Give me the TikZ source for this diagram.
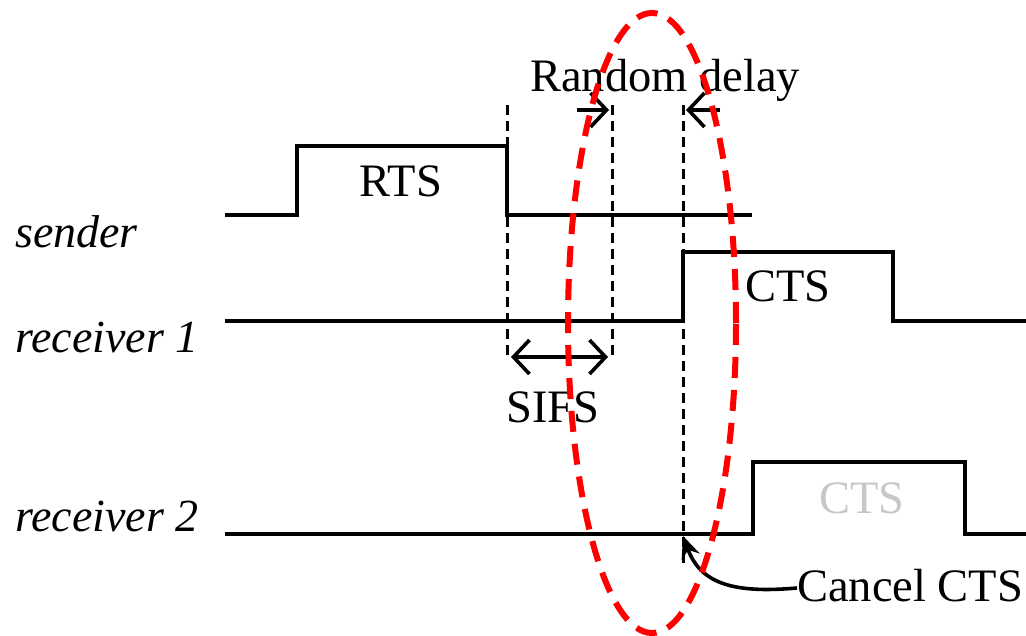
\documentclass[tikz,border=0pt]{standalone}
\usepackage{fontspec}
\setmainfont{Liberation Serif}
\usetikzlibrary{arrows.meta}
\begin{document}
\begin{tikzpicture}[x=1pt,y=-1pt,
  sig/.style={line width=3.6pt, line join=miter, line cap=butt},
  guide/.style={line width=3pt, dash pattern=on 10pt off 6pt},
  lbl/.style={font=\fontsize{46.5}{50}\selectfont, inner sep=0pt, anchor=base},
  side/.style={font=\fontsize{46}{50}\selectfont\itshape, inner sep=0pt, anchor=base west},
  barb/.style={line width=3.6pt, -{Straight Barb[length=16pt,width=34pt,line width=3.6pt]}},
  dbarb/.style={line width=3.6pt, {Straight Barb[length=16pt,width=34pt,line width=3.6pt]}-{Straight Barb[length=16pt,width=34pt,line width=3.6pt]}},
  oval/.style={draw=red, line width=6pt, dash pattern=on 21pt off 12pt}]
\useasboundingbox (0,0) rectangle (1026,636);
% signal lines
\draw[sig] (225,215) -- (297,215) -- (297,146) -- (507,146) -- (507,215) -- (752,215);
\draw[sig] (225,321) -- (683,321) -- (683,252) -- (893,252) -- (893,321) -- (1026,321);
\draw[sig] (225,534) -- (753,534) -- (753,462) -- (965,462) -- (965,534) -- (1026,534);
% guide lines
\coordinate (g1t) at (507,105); \coordinate (g1b) at (507,360);
\coordinate (g2t) at (612,105); \coordinate (g2b) at (612,360);
\coordinate (g3t) at (683,105); \coordinate (g3b) at (683,568);
\draw[guide] (g1t) -- (g1b);
\draw[guide] (g2t) -- (g2b);
\draw[guide] (g3t) -- (g3b);
% random delay arrows
\coordinate (rdl) at (577,110); \coordinate (rdlt) at (609,110);
\coordinate (rdr) at (720,110); \coordinate (rdrt) at (686,110);
\draw[barb] (rdl) -- (rdlt);
\draw[barb] (rdr) -- (rdrt);
% SIFS arrow
\coordinate (s1) at (511,357); \coordinate (s2) at (608,357);
\draw[dbarb] (s1) -- (s2);
% labels
\node[lbl, anchor=base west] (rd) at (530,92) {Random delay};
\node[lbl] (rts) at (401,197) {RTS};
\node[lbl] (cts1) at (788,302) {CTS};
\node[lbl, text=black!22] (cts2) at (862,513) {CTS};
\node[lbl] (sifs) at (553,422) {SIFS};
\node[lbl, anchor=base west] (cancel) at (797,601) {Cancel CTS};
\node[side] (snd) at (15,248) {sender};
\node[side] (rc1) at (15,353) {receiver 1};
\node[side] (rc2) at (15,531) {receiver 2};
% cancel arrow
\coordinate (ctip) at (683,536);
\draw[line width=3.6pt, -{Stealth[length=22pt,width=19pt]}] (cancel.west |- 0,588) .. controls (730,594) and (700,582) .. (ctip);
% red oval
\draw[oval] (652,323) ellipse [x radius=84pt, y radius=310pt];
\end{tikzpicture}
\end{document}
